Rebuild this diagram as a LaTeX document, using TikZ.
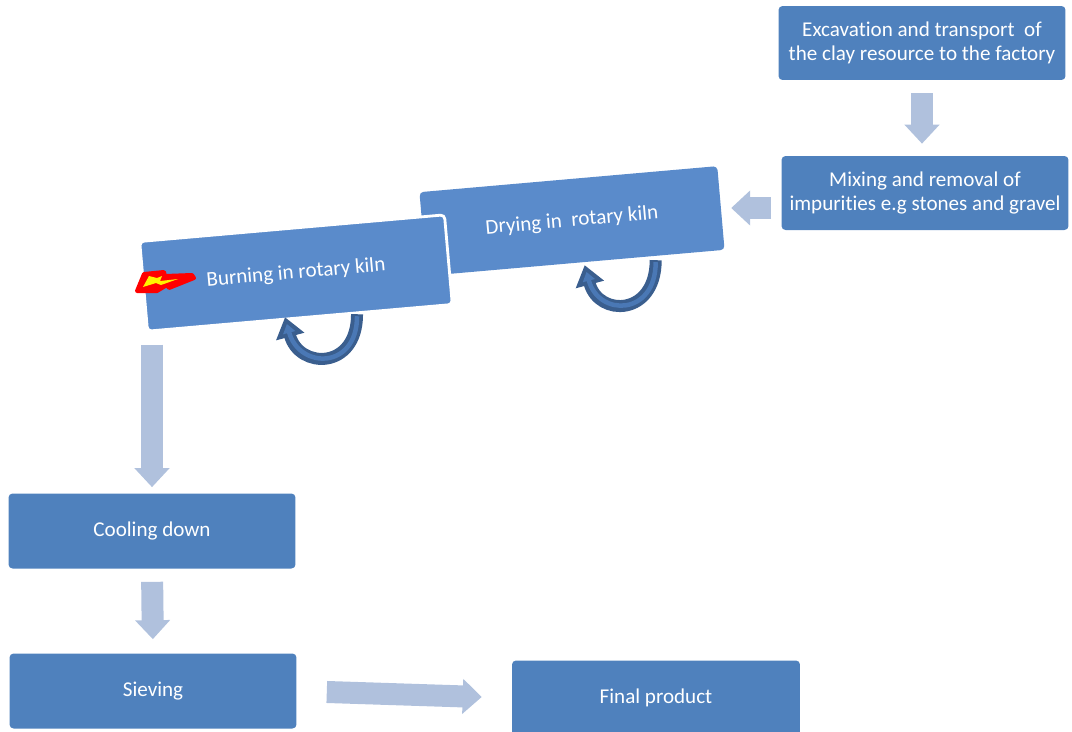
\documentclass[tikz,border=0pt]{standalone}
\usepackage{fontspec}
\setmainfont{Carlito}[Ligatures=NoCommon]
\usetikzlibrary{arrows.meta,calc}
\definecolor{boxblue}{HTML}{4F81BD}
\definecolor{kilnblue}{HTML}{5A8BCB}
\definecolor{flowblue}{HTML}{B0C1DD}
\definecolor{loopdark}{HTML}{3A5E8E}
\definecolor{loopmid}{HTML}{4A78B5}

\begin{document}
\begin{tikzpicture}[x=0.02cm,y=-0.02cm,
	stage/.style={fill=boxblue,rounded corners=0.08cm,text=white,align=center,inner sep=0pt,
		minimum width=5.74cm,minimum height=1.48cm,font=\fontsize{12}{13.7}\selectfont},
	kiln/.style={stage,fill=kilnblue,rotate=5},
	flow/.style={draw=flowblue,line width=0.44cm,-{Triangle[width=0.68cm,length=0.38cm]}},
	loopout/.style={draw=loopdark,line width=0.24cm,-{Triangle[width=0.56cm,length=0.4cm]}},
	loopin/.style={draw=loopmid,line width=0.09cm,shorten >=0.14cm,-{Triangle[width=0.24cm,length=0.18cm]}}]
	\useasboundingbox (0,0) rectangle (1072,731);
	%%  Stages  %%%%%%%%
	\node[stage] (excav) at (922,43) {Excavation and transport~ of\\the clay resource to the factory};
	\node[stage] (mix) at (925,193) {Mixing and removal of\\impurities e.g stones and gravel};
	\node[kiln,minimum width=5.98cm,minimum height=1.68cm] (dry) at (572,221) {Drying in~ rotary kiln};
	\node[kiln,draw=white,line width=1.6pt,minimum width=6.12cm,minimum height=1.8cm] (burn) at (296,273) {Burning in rotary kiln};
	\node[stage,minimum height=1.5cm] (cool) at (152,531) {Cooling down};
	\node[stage,minimum height=1.5cm] (sieve) at (153,691) {Sieving};
	\node[stage,minimum width=5.76cm,minimum height=1.5cm] (final) at (656,698) {Final product};
	%%  Flow arrows  %%%%%%%%
	\draw[flow,shorten <=0.26cm,shorten >=0.24cm] (excav.south) -- (excav.south |- mix.north);
	\draw[flow] ($(mix.west)+(-10,15)$) -- ++(-40,0);
	\draw[flow,shorten <=0.24cm,shorten >=0.12cm] (burn.south west -| cool.north) -- (cool.north);
	\draw[flow,shorten <=0.26cm,shorten >=0.28cm] (cool.south) -- (sieve.north);
	\draw[flow,shorten <=0.6cm,shorten >=0.6cm] (sieve.east) -- (final.west);
	%%  Kiln rotation  %%%%%%%%
	\draw[loopout] ($(burn.south)+(57,-5)$) .. controls +(0,56) and +(14,52) .. ($(burn.south)+(-15,-2)$);
	\draw[loopin] ($(burn.south)+(57,-3)$) .. controls +(0,54) and +(14,52) .. ($(burn.south)+(-15,-2)$);
	\draw[loopout] ($(dry.south)+(80,-3)$) .. controls +(0,56) and +(14,52) .. ($(dry.south)+(9,2)$);
	\draw[loopin] ($(dry.south)+(80,-1)$) .. controls +(0,54) and +(14,52) .. ($(dry.south)+(9,2)$);
	%%  Flame  %%%%%%%%
	\draw[red,line width=0.08cm,fill=red,line join=round]
		(137,291) -- (144,274) -- (164,272) -- (165,276) -- (192,275) -- (194,278) -- (169,288) -- (167,285) -- (157,291) -- cycle;
	\fill[yellow] (143,287) -- (149,276) -- (157,278) -- (162,276) -- (160,281) -- (178,279) -- (161,285) -- (156,283) -- cycle;
	%%%%%%%%%%%%%%%
\end{tikzpicture}
\end{document}
